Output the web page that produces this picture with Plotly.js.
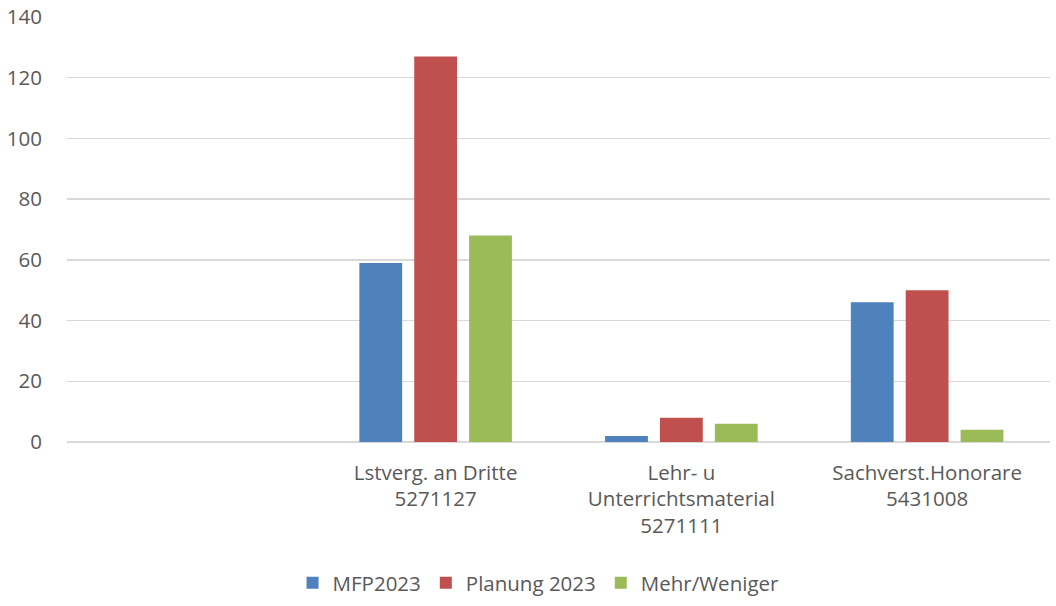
<!DOCTYPE html>
<html><head><meta charset="utf-8">
<script src="https://cdn.plot.ly/plotly-3.0.1.min.js"></script>
<style>html,body{margin:0;padding:0;background:#fff}#c{width:1056px;height:606px}</style>
</head><body><div id="c"></div>
<script>
const categories = [" ", "Lstverg. an Dritte<br>5271127", "Lehr- u<br>Unterrichtsmaterial<br>5271111", "Sachverst.Honorare<br>5431008"];
const mfp2023 = [null, 59, 2, 46];
const planung2023 = [null, 127, 8, 50];
const mehrWeniger = [null, 68, 6, 4];
const seriesNames = ["MFP2023", "Planung 2023", "Mehr/Weniger"];
const colors = ["#4f81bd", "#c0504d", "#9bbb59"];
const yTicks = [0, 20, 40, 60, 80, 100, 120, 140];

const vals = [mfp2023, planung2023, mehrWeniger];
const traces = vals.map((v, i) => ({
  type: 'bar', x: categories, y: v, name: seriesNames[i],
  marker: {color: colors[i]}, hoverinfo: 'skip'
}));
const font = {family: '"Open Sans", sans-serif', size: 20.5, color: '#595959'};
Plotly.newPlot('c', traces, {
  width: 1056, height: 606,
  margin: {l: 67, r: 6, t: 17, b: 164},
  paper_bgcolor: '#fff', plot_bgcolor: '#fff',
  font: font,
  barmode: 'group', bargap: 0.33, bargroupgap: 0.22,
  xaxis: {type: 'category', showgrid: false, showline: false, ticks: 'outside', ticklen: 12, tickcolor: 'rgba(0,0,0,0)',
          tickfont: font, fixedrange: true},
  yaxis: {range: [0, 140], tickvals: yTicks, showgrid: true, gridcolor: '#d9d9d9', gridwidth: 1.3,
          zeroline: true, zerolinecolor: '#d9d9d9', zerolinewidth: 1.5, showline: false,
          ticks: 'outside', ticklen: 20, tickcolor: 'rgba(0,0,0,0)',
          tickfont: font, fixedrange: true},
  showlegend: true,
  legend: {orientation: 'h', x: 0.51, xanchor: 'center', xref: 'container', y: 0.005, yref: 'container', yanchor: 'bottom',
           font: font, itemwidth: 20, traceorder: 'normal'},
}, {displayModeBar: false, staticPlot: true});
</script></body></html>
